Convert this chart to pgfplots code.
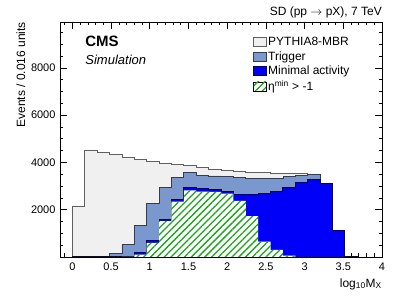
\documentclass[border=0pt]{standalone}
\usepackage{pgfplots}
\pgfplotsset{compat=1.18}
\usepackage{pgfplotstable}
\usepackage{fontspec}
\setmainfont{Liberation Sans}
\usetikzlibrary{patterns.meta}
\definecolor{mbrfill}{RGB}{240,240,240}
\definecolor{mbrline}{RGB}{95,95,95}
\definecolor{trigfill}{RGB}{122,152,206}
\definecolor{trigline}{RGB}{55,60,70}
\definecolor{minfill}{RGB}{0,0,250}
\definecolor{minline}{RGB}{10,10,50}
\definecolor{etagreen}{RGB}{25,165,25}

\pgfplotstableread{
x     mbr   trig  mina  eta
0.00  2150  0     10    0
0.16  4520  0     12    0
0.32  4430  30    15    0
0.48  4320  150   20    0
0.64  4220  520   40    10
0.80  4110  1320  180   100
0.96  4050  2260  690   600
1.12  3970  2960  1600  1520
1.28  3900  3380  2430  2340
1.44  3860  3590  2920  2820
1.60  3790  3450  2880  2760
1.76  3710  3430  2860  2750
1.92  3660  3410  2790  2680
2.08  3630  3380  2650  2370
2.24  3590  3340  2640  1730
2.40  3570  3320  2680  650
2.56  3550  3340  2770  300
2.72  3540  3400  2930  60
2.88  3530  3450  3140  0
3.04  3510  3490  3280  0
3.20  3130  3120  3100  0
3.36  1120  1110  1100  0
3.52  20    20    20    0
3.68  20    20    20    0
}\histdata

\begin{document}
\begin{tikzpicture}
\useasboundingbox (0,0) rectangle (399bp,299bp);
\begin{axis}[
  name=ax,
  at={(60bp,42bp)}, anchor=south west,
  scale only axis, width=322bp, height=235bp,
  xmin=-0.16, xmax=4, ymin=0, ymax=9940,
  axis line style={line width=0.8bp},
  xtick={0,0.5,...,4},
  minor xtick={-0.1,0,...,4},
  ytick={2000,4000,6000,8000},
  minor ytick={500,1000,...,9500},
  scaled y ticks=false,
  tick align=inside,
  xtick pos=both, ytick pos=both,
  major tick length=7bp, minor tick length=3.5bp,
  tick style={black, line width=0.6bp},
  /pgf/number format/1000 sep={},
  /pgf/number format/assume math mode=true,
  ticklabel style={font=\fontsize{11bp}{13bp}\selectfont},
  xticklabel style={yshift=-2bp},
  yticklabel style={xshift=-1bp},
  xlabel={log\textsubscript{10}M\textsubscript{X}},
  xlabel style={at={(rel axis cs:1,0)}, anchor=base east, yshift=-30bp, inner sep=0pt, font=\fontsize{12bp}{14bp}\selectfont},
  ylabel={Events / 0.016 units},
  ylabel style={at={(rel axis cs:0,1)}, anchor=base east, yshift=35bp, inner sep=0pt, font=\fontsize{12bp}{14bp}\selectfont},
  legend cell align=left,
  legend style={at={(rel axis cs:0.59,0.95)}, anchor=north west, draw=none, fill=none,
    font=\fontsize{12bp}{13bp}\selectfont, row sep=1.2bp,
    nodes={inner sep=1.5bp}},
  legend image code/.code={\draw[#1] (0bp,-4.5bp) rectangle (12.5bp,4.5bp);},
]
\addplot[const plot, fill=mbrfill, draw=mbrline, line width=0.8bp] table[x=x,y=mbr]{\histdata} \closedcycle;
\addlegendentry{PYTHIA8-MBR}
\addplot[const plot, fill=trigfill, draw=trigline, line width=0.8bp] table[x=x,y=trig]{\histdata} \closedcycle;
\addlegendentry{Trigger}
\addplot[const plot, fill=minfill, draw=minline, line width=1bp] table[x=x,y=mina]{\histdata} \closedcycle;
\addlegendentry{Minimal activity}
\addplot[const plot, draw=none, fill=white,
  postaction={pattern={Lines[angle=45,distance=4.8bp,line width=1.3bp]}, pattern color=etagreen}]
  table[x=x,y=eta]{\histdata} \closedcycle;
\addlegendentry{η\textsuperscript{min} > -1}
\node[anchor=base west, font=\fontsize{15bp}{17bp}\selectfont\bfseries] at (rel axis cs:0.068,0.894) {CMS};
\node[anchor=base west, font=\fontsize{13bp}{15bp}\selectfont\itshape] at (rel axis cs:0.068,0.821) {Simulation};
\end{axis}
\node[anchor=base east, inner sep=0pt, font=\fontsize{12bp}{14bp}\selectfont] at ([yshift=6bp]ax.north east) {SD (pp \ensuremath{\rightarrow} pX), 7 TeV};
\end{tikzpicture}
\end{document}
